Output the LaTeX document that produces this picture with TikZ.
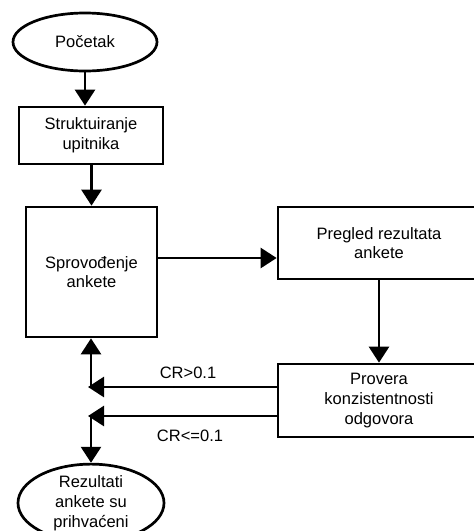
\documentclass[tikz,border=0pt]{standalone}
\usepackage{fontspec}
\setmainfont{Liberation Sans}
\usetikzlibrary{arrows.meta,shapes.geometric}
\begin{document}
\begin{tikzpicture}[x=1pt,y=-1pt,
  every node/.style={font=\fontsize{16.5}{19.8}\selectfont, align=center, inner sep=0pt},
  box/.style={draw, line width=2.7pt, rectangle},
  term/.style={draw, line width=2.7pt, ellipse},
  flow/.style={line width=2.7pt, -{Triangle[width=20pt,length=16pt]}}
]
\clip (0,0) rectangle (474,531);
\useasboundingbox (0,0) rectangle (474,531);

% nodes
\node[term, minimum width=144pt, minimum height=58pt] (start) at (85,42) {Početak};
\node[box, minimum width=144pt, minimum height=57pt] (struk) at (91,135.5) {Struktuiranje\\upitnika};
\node[box, minimum width=131pt, minimum height=130pt] (sprov) at (91.5,272) {Sprovođenje\\ankete};
\node[box, minimum width=202pt, minimum height=72pt] (pregled) at (379,243) {Pregled rezultata\\ankete};
\node[box, minimum width=202pt, minimum height=73pt] (provera) at (379,400.5) {Provera\\konzistentnosti\\odgovora};
\node[term, minimum width=146pt, minimum height=76pt] (rez) at (91,503) {Rezultati\\ankete su\\prihvaćeni};

% junction points on the return line
\coordinate (j1) at (91,387);
\coordinate (j2) at (91,416);
\coordinate (t1) at (88,387);
\coordinate (t2) at (88,416);

% connectors
\draw[flow] (start.south) -- (start.south |- struk.north);
\draw[flow] (struk.south -| sprov.north) -- (sprov.north);
\draw[flow] ([yshift=14pt]sprov.east) -- ([yshift=14pt]sprov.east -| pregled.west);
\draw[flow] (pregled.south) -- (provera.north);
\draw[flow] (provera.west |- j1) -- (t1);
\draw[flow] (provera.west |- j2) -- (t2);
\draw[flow] ([yshift=1.3pt]j1) -- (j1 |- sprov.south);
\draw[flow] ([yshift=-1.3pt]j2) -- (j2 |- rez.north);

% condition labels
\node (lab1) at (188,373) {CR>0.1};
\node (lab2) at (190,436) {CR<=0.1};
\end{tikzpicture}
\end{document}
